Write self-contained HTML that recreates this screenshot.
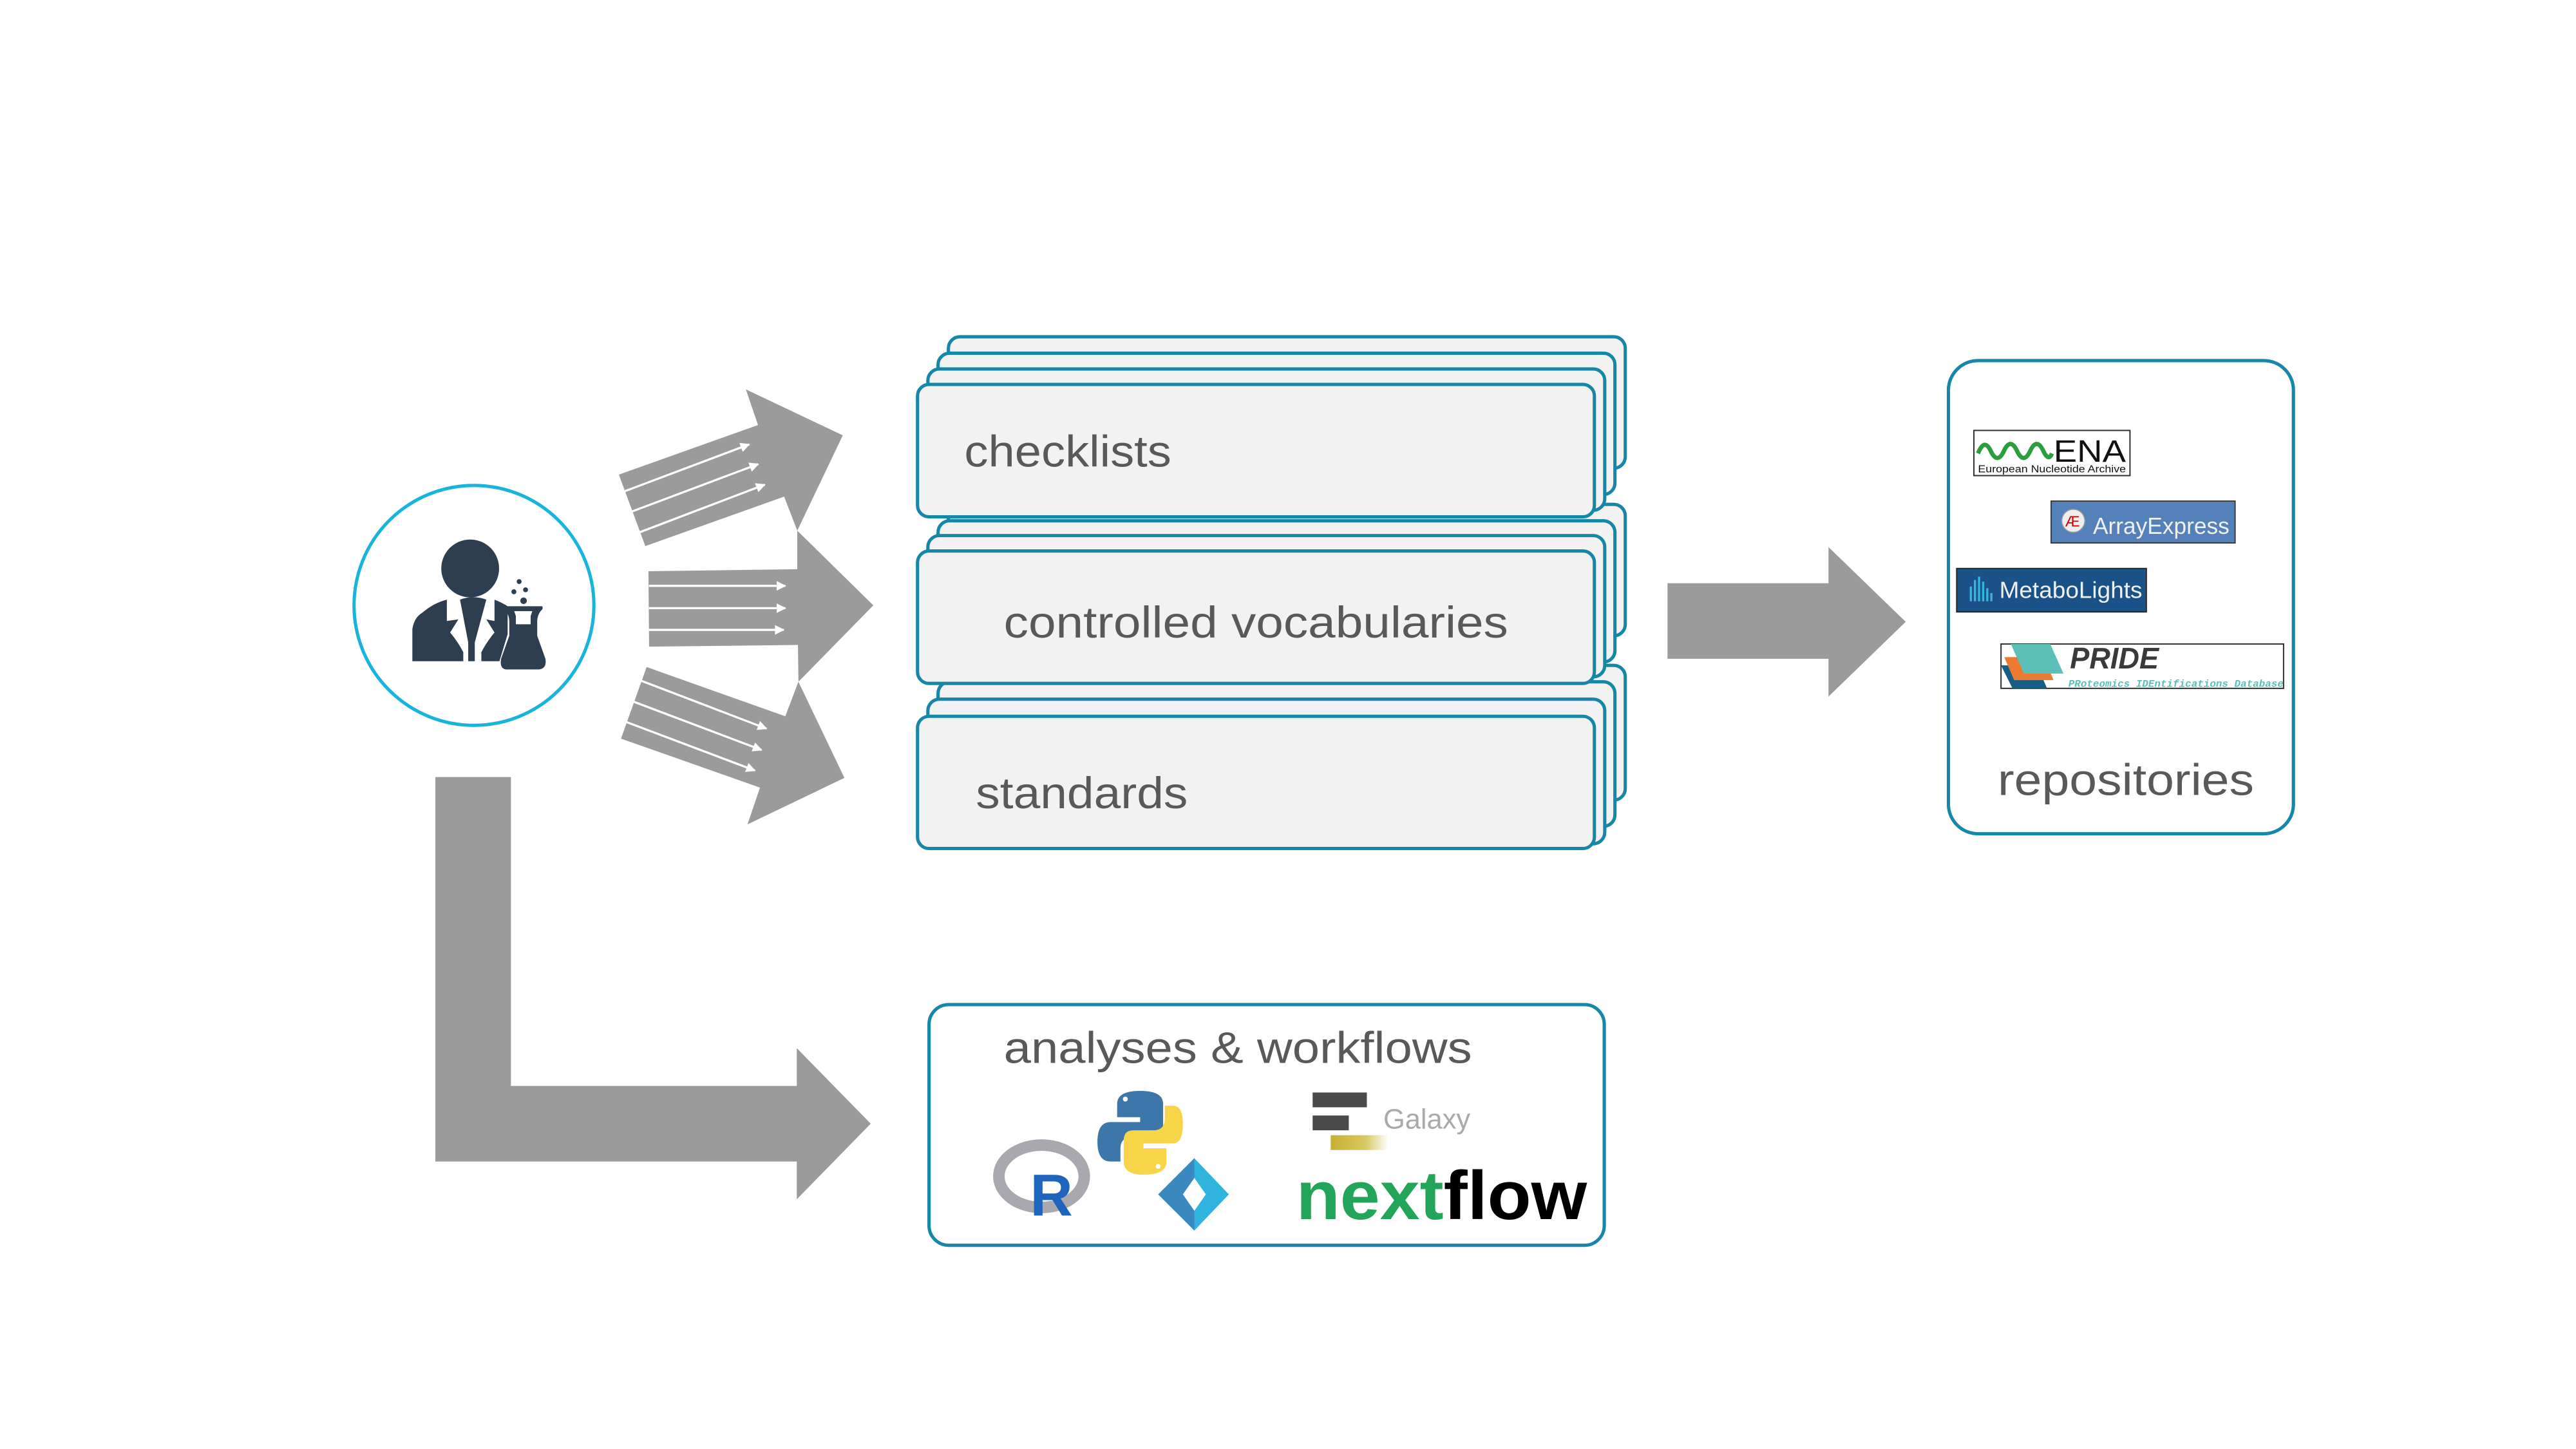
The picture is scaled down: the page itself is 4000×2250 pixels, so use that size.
<!DOCTYPE html>
<html><head><meta charset="utf-8"><style>html,body{margin:0;padding:0;background:#fff}svg{display:block}</style></head>
<body>
<svg xmlns="http://www.w3.org/2000/svg" width="4000" height="2250" viewBox="0 0 1568 882">
<defs>
<marker id="wa" viewBox="0 0 10 10" refX="9" refY="5" markerWidth="5.5" markerHeight="4.5" orient="auto" markerUnits="strokeWidth"><path d="M0,0 L10,5 L0,10 Z" fill="#fff"/></marker>
<linearGradient id="gy" x1="0" x2="1"><stop offset="0" stop-color="#c8b030"/><stop offset="0.6" stop-color="#d8c860"/><stop offset="1" stop-color="#fff"/></linearGradient>
</defs>
<rect width="1568" height="882" fill="#fff"/>

<!-- person circle -->
<circle cx="288.5" cy="368.5" r="73" fill="#fff" stroke="#19b4dc" stroke-width="2"/>
<g fill="#2d3e50">
<circle cx="286.2" cy="346" r="17.6"/>
<path d="M251,402.5 L251,383 Q252,376 257,373 Q264,367 272,365 L272,378 L279,377 L274,385 Q279,391 282,397 L282,402.5 Z"/>
<path d="M280,365 Q288,362 296,365 L289,391 L289,402.5 L285,402.5 L285,391 Z"/>
<path d="M301,365 Q306,367 309,369 L309,386 L304,402.5 L293,402.5 L293,397 Q296,391 301,385 L296,377 L301,378 Z"/>
<path d="M307,369 L330,369 Q331,370.5 329,372 Q327,375 327,378 L327,387 L332,401 Q333,407 328,407.5 L308,407.5 Q304,407 305,401 L310,387 L310,378 Q310,375 308,372 Q306,370.5 307,369 Z"/>
<circle cx="316" cy="354" r="1.5"/><circle cx="312.8" cy="360.2" r="1.5"/><circle cx="319.9" cy="359" r="1.5"/><circle cx="318.7" cy="365.7" r="2"/>
</g>
<path d="M313,372 L324,372 L323,375 L323,380 L314,380 L314,375 Z" fill="#fff"/>

<!-- three arrows -->
<g fill="#9b9b9b">
<polygon points="376.7,288.9 461.4,258.7 454,237 513,265 485.3,323 477.3,302.3 392.8,332.4"/>
<polygon points="394.7,347.7 485.3,346.5 485.3,323 531.6,368.5 486,415 485.7,392.6 395.1,393.6"/>
<polygon points="393.6,406 478,436 486,415 514,473.5 455,501.8 462.6,479.4 378,449.6"/>
</g>
<g stroke="#fff" stroke-width="1.3" marker-end="url(#wa)">
<line x1="380.3" y1="299" x2="456" y2="270.5"/>
<line x1="384.8" y1="311.3" x2="461.5" y2="282.5"/>
<line x1="389.3" y1="324" x2="465.5" y2="295"/>
<line x1="395" y1="356.6" x2="478" y2="356.6"/>
<line x1="395" y1="370.2" x2="478" y2="370.2"/>
<line x1="395" y1="383.4" x2="477" y2="383.4"/>
<line x1="390.4" y1="414.4" x2="466.5" y2="443.5"/>
<line x1="385.4" y1="427" x2="463.5" y2="456.5"/>
<line x1="381.3" y1="439.5" x2="459.5" y2="469"/>
</g>

<!-- L arrow -->
<polygon points="265,473 311,473 311,661 485,661 485,638 530,684 485,730 485,707 265,707" fill="#9b9b9b"/>
<!-- right arrow -->
<polygon points="1015,355 1113,355 1113,333 1160,378.5 1113,424 1113,401 1015,401" fill="#9b9b9b"/>

<!-- stacks -->
<g fill="#f2f2f2" stroke="#1687a6" stroke-width="2">
<rect x="577.3" y="405" width="412" height="82" rx="7"/>
<rect x="571" y="415" width="412" height="88" rx="7"/>
<rect x="564.8" y="425.6" width="412" height="88" rx="7"/>
<rect x="558.5" y="436" width="412" height="80.5" rx="7"/>
<rect x="577.3" y="307" width="412" height="80" rx="7"/>
<rect x="571" y="317" width="412" height="86" rx="7"/>
<rect x="564.8" y="326" width="412" height="86" rx="7"/>
<rect x="558.5" y="335.4" width="412" height="80.6" rx="7"/>
<rect x="577.3" y="205" width="412" height="80" rx="7"/>
<rect x="571" y="215" width="412" height="86" rx="7"/>
<rect x="564.8" y="224.6" width="412" height="86" rx="7"/>
<rect x="558.5" y="234" width="412" height="80.6" rx="7"/>
</g>
<g font-family="Liberation Sans, sans-serif" fill="#595959" font-size="27">
<text x="587" y="284" textLength="126" lengthAdjust="spacingAndGlyphs">checklists</text>
<text x="611" y="388" textLength="307" lengthAdjust="spacingAndGlyphs">controlled vocabularies</text>
<text x="594" y="492" textLength="129" lengthAdjust="spacingAndGlyphs">standards</text>
</g>

<!-- repositories -->
<rect x="1186" y="219.5" width="210" height="288" rx="18" fill="#fff" stroke="#1687a6" stroke-width="2"/>
<rect x="1201.5" y="262" width="95" height="27.5" fill="#fff" stroke="#333" stroke-width="0.8"/>
<path d="M1204,276 Q1208,266 1212,275 Q1216,283 1220,274 Q1224,266 1228,275 Q1232,283 1236,274 Q1240,266 1244,275 Q1247,281 1249,276" fill="none" stroke="#2a9e3c" stroke-width="2.6"/>
<text x="1250" y="281" font-family="Liberation Sans, sans-serif" font-size="19" fill="#111" textLength="44" lengthAdjust="spacingAndGlyphs">ENA</text>
<text x="1204" y="287.5" font-family="Liberation Sans, sans-serif" font-size="6" fill="#111" textLength="90" lengthAdjust="spacingAndGlyphs">European Nucleotide Archive</text>
<rect x="1248.5" y="305" width="112" height="25.5" fill="#5581bb" stroke="#333" stroke-width="0.7"/>
<circle cx="1262" cy="317" r="7" fill="#eee" stroke="#999" stroke-width="0.6"/>
<text x="1257" y="320.5" font-family="Liberation Sans, sans-serif" font-size="9" fill="#c00">Æ</text>
<text x="1274" y="325" font-family="Liberation Sans, sans-serif" font-size="14" fill="#f0f0f0" textLength="83" lengthAdjust="spacingAndGlyphs">ArrayExpress</text>
<rect x="1191" y="346" width="115.5" height="26.5" fill="#1a5186" stroke="#222" stroke-width="0.7"/>
<g fill="#35b6e0"><rect x="1199" y="357" width="1.3" height="9"/><rect x="1201.5" y="353" width="1.3" height="13"/><rect x="1204" y="351" width="1.3" height="15"/><rect x="1206.5" y="354" width="1.3" height="12"/><rect x="1209" y="358" width="1.3" height="8"/><rect x="1211.5" y="361" width="1.3" height="5"/></g>
<text x="1217" y="364" font-family="Liberation Sans, sans-serif" font-size="14" fill="#f0f0f0" textLength="87" lengthAdjust="spacingAndGlyphs">MetaboLights</text>
<rect x="1218" y="392" width="172" height="27" fill="#fff" stroke="#333" stroke-width="0.8"/>
<polygon points="1218,405 1240,405 1246,419 1225,419" fill="#165e86"/>
<polygon points="1220,400 1244,400 1250,414 1226,414" fill="#ec7a30"/>
<polygon points="1224,392 1248,392 1256,410 1232,410" fill="#5cc0b8"/>
<text x="1260" y="407" font-family="Liberation Sans, sans-serif" font-size="18" font-weight="bold" font-style="italic" fill="#3a3a3a" textLength="54" lengthAdjust="spacingAndGlyphs">PRIDE</text>
<text x="1259" y="418" font-family="Liberation Mono, monospace" font-size="6" font-weight="bold" font-style="italic" fill="#5cc0b8" textLength="131" lengthAdjust="spacingAndGlyphs">PRoteomics IDEntifications Database</text>
<text x="1294" y="484" text-anchor="middle" font-family="Liberation Sans, sans-serif" font-size="27" fill="#595959" textLength="156" lengthAdjust="spacingAndGlyphs">repositories</text>

<!-- analyses -->
<rect x="565.5" y="611.5" width="411" height="146.5" rx="12" fill="#fff" stroke="#1687a6" stroke-width="2"/>
<text x="611" y="647" font-family="Liberation Sans, sans-serif" font-size="27" fill="#595959" textLength="285" lengthAdjust="spacingAndGlyphs">analyses &amp; workflows</text>
<ellipse cx="634" cy="716" rx="26" ry="19" fill="none" stroke="#a8a8ae" stroke-width="7"/>
<text x="627" y="740" font-family="Liberation Sans, sans-serif" font-size="36" font-weight="bold" fill="#1e64bc">R</text>
<path d="M694,664 Q680,664 680,672 L680,680 L694,680 L694,683 L676,683 Q668,683 668,695 Q668,707 676,707 L682,707 L682,699 Q682,692 690,692 L702,692 Q708,692 708,686 L708,672 Q708,664 694,664 Z" fill="#3d77aa"/>
<path d="M696,715 Q710,715 710,707 L710,699 L696,699 L696,696 L714,696 Q720,696 720,684 Q720,673 714,673 L709,673 L709,681 Q709,688 702,688 L690,688 Q684,688 684,694 L684,707 Q684,715 696,715 Z" fill="#f8d449"/>
<circle cx="685" cy="669" r="1.5" fill="#fff"/><circle cx="705" cy="710" r="1.5" fill="#fff"/>
<polygon points="727,705 748,727 727,749 705,727" fill="#2fb5dd"/>
<polygon points="727,705 727,749 705,727" fill="#3a88c0"/>
<polygon points="727,717 734,727 727,737 720,727" fill="#fff"/>
<rect x="799" y="665" width="33" height="9" fill="#4a4a4a"/>
<rect x="799" y="679" width="22" height="9" fill="#4a4a4a"/>
<rect x="810" y="691" width="35" height="9" fill="url(#gy)"/>
<text x="842" y="687" font-family="Liberation Sans, sans-serif" font-size="17" fill="#aaa" textLength="53" lengthAdjust="spacingAndGlyphs">Galaxy</text>
<text x="789" y="742" font-family="Liberation Sans, sans-serif" font-size="42" font-weight="bold" textLength="177" lengthAdjust="spacingAndGlyphs"><tspan fill="#22a559">next</tspan><tspan fill="#000">flow</tspan></text>
</svg>
</body></html>
